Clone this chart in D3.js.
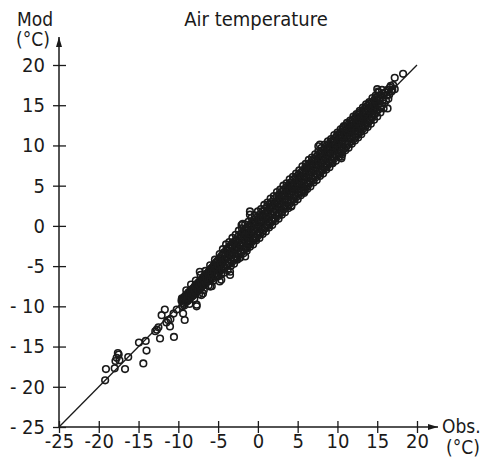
<!DOCTYPE html>
<html>
<head>
<meta charset="utf-8">
<script src="https://cdn.jsdelivr.net/npm/d3@7"></script>
<style>
  body { margin: 0; background: #fff; }
  svg { display: block; }
  text { font-family: "DejaVu Sans Condensed", "DejaVu Sans", sans-serif; fill: #1a1a1a; }
</style>
</head>
<body>
<svg id="chart"></svg>
<script>
const width = 483, height = 468;

const xTicks = [-25, -20, -15, -10, -5, 0, 5, 10, 15, 20];
const yTicks = [-25, -20, -15, -10, -5, 0, 5, 10, 15, 20];
const oneToOne = [[-25, -25], [20, 20]];

// scattered points, cold tail and outliers [obs, mod]
const sparsePoints = [
  [-19.2, -19.2], [-19.1, -17.8], [-18.0, -17.7], [-16.7, -17.8], [-17.75, -16.4],
  [-17.5, -16.0], [-17.9, -16.8], [-17.4, -16.7], [-17.6, -15.8], [-16.3, -16.3],
  [-14.4, -17.1], [-14.95, -14.5], [-14.1, -14.3], [-14.0, -15.5], [-12.3, -14.0],
  [-12.7, -12.9], [-12.5, -12.6], [-12.9, -13.1], [-11.05, -12.5], [-11.3, -11.7],
  [-11.5, -12.0], [-11.0, -11.6], [-10.55, -13.8], [-12.1, -11.1], [-11.7, -10.4],
  [-10.2, -10.4], [-10.6, -10.9], [-9.2, -11.7], [-9.4, -10.9], [-7.7, -9.8],
  [-6.9, -8.4], [-5.8, -7.5], [-4.8, -6.9], [-4.6, -6.7], [-6.0, -7.55],
  [-7.1, -8.6], [-7.7, -10.0], [-3.5, -5.7], [-3.5, -6.1], [-2.3, -4.0],
  [-1.6, -3.8], [-1.4, -2.8], [-0.4, -1.7], [-7.3, -5.7], [-2.05, 0.1],
  [-1.0, 1.8], [-1.0, 1.4], [-1.9, 0.25], [4.2, 2.4], [5.7, 4.3],
  [5.9, 4.3], [7.6, 9.9], [7.8, 10.1], [9.25, 7.8], [10.5, 8.4],
  [10.5, 8.6], [10.7, 12.2], [12.4, 11.9], [15.0, 17.0], [15.1, 16.7],
  [16.3, 14.6], [17.2, 18.4], [18.25, 18.9]
];

// main body of the cloud along the 1:1 line [obs, mod]
const densePoints = [
  [-9.6, -9.3], [-9.5, -10.0], [-9.4, -9.0], [-9.3, -9.7], [-9.2, -8.8], [-9.1, -9.5], [-9.0, -9.1], [-8.9, -8.6], [-8.8, -9.3], [-8.7, -8.9],
  [-8.6, -8.2], [-8.5, -9.0], [-8.4, -8.5], [-8.3, -7.9], [-8.2, -8.7], [-8.1, -8.3], [-8.0, -7.6], [-7.9, -8.4], [-7.8, -7.9], [-7.7, -7.3],
  [-7.6, -8.1], [-7.5, -7.6], [-7.4, -7.0], [-7.3, -7.8], [-7.2, -7.3], [-7.1, -6.7], [-7.0, -7.5], [-6.9, -7.0], [-6.8, -6.3], [-6.7, -7.2],
  [-6.6, -6.7], [-6.5, -6.0], [-6.4, -6.9], [-6.3, -6.4], [-6.2, -5.7], [-6.1, -6.6], [-6.0, -6.0], [-5.9, -5.3], [-5.8, -6.4], [-5.7, -5.8],
  [-5.6, -5.0], [-5.5, -6.1], [-5.4, -5.5], [-5.3, -4.6], [-5.2, -5.9], [-5.1, -5.2], [-5.0, -4.3], [-4.9, -5.6], [-4.8, -4.9], [-4.7, -4.1],
  [-4.6, -5.4], [-4.5, -4.6], [-4.4, -3.6], [-4.3, -5.1], [-4.2, -4.2], [-4.1, -3.4], [-4.0, -4.9], [-3.9, -3.9], [-3.8, -3.0], [-3.7, -4.6],
  [-3.6, -3.5], [-3.5, -2.7], [-3.4, -4.3], [-3.3, -2.6], [-3.2, -3.3], [-3.1, -4.1], [-3.0, -2.3], [-2.9, -3.0], [-2.8, -3.8], [-2.7, -1.9],
  [-2.6, -2.8], [-2.5, -3.5], [-2.4, -1.6], [-2.3, -2.3], [-2.2, -3.1], [-2.1, -1.4], [-2.0, -2.1], [-1.9, -2.9], [-1.8, -1.0], [-1.7, -1.8],
  [-1.6, -2.6], [-1.5, -0.8], [-1.4, -1.5], [-1.3, -2.2], [-1.2, -0.5], [-1.1, -1.1], [-1.0, -1.9], [-0.9, -0.1], [-0.8, -0.8], [-0.7, -1.6],
  [-0.6, 0.2], [-0.5, -0.5], [-0.4, -1.3], [-0.3, 0.5], [-0.2, -0.3], [-0.1, -1.0], [0.0, 0.8], [0.1, 0.0], [0.2, -0.7], [0.3, 1.1],
  [0.4, 0.4], [0.5, -0.4], [0.6, 1.3], [0.7, 0.6], [0.8, -0.1], [0.9, 1.6], [1.0, 1.0], [1.1, 0.2], [1.2, 1.9], [1.3, 1.2],
  [1.4, 0.5], [1.5, 2.2], [1.6, 1.5], [1.7, 0.8], [1.8, 2.5], [1.9, 1.8], [2.0, 1.0], [2.1, 2.8], [2.2, 2.1], [2.3, 1.3],
  [2.4, 3.1], [2.5, 2.4], [2.6, 1.6], [2.7, 3.3], [2.8, 2.7], [2.9, 2.0], [3.0, 3.7], [3.1, 3.0], [3.2, 2.3], [3.3, 4.0],
  [3.4, 3.3], [3.5, 2.6], [3.6, 4.4], [3.7, 3.7], [3.8, 2.9], [3.9, 4.6], [4.0, 4.0], [4.1, 3.2], [4.2, 5.0], [4.3, 4.3],
  [4.4, 3.5], [4.5, 5.3], [4.6, 4.6], [4.7, 3.8], [4.8, 5.6], [4.9, 4.9], [5.0, 4.2], [5.1, 5.9], [5.2, 5.2], [5.3, 4.5],
  [5.4, 6.2], [5.5, 5.5], [5.6, 4.8], [5.7, 6.5], [5.8, 5.8], [5.9, 5.0], [6.0, 6.8], [6.1, 6.1], [6.2, 5.3], [6.3, 7.1],
  [6.4, 6.4], [6.5, 5.6], [6.6, 7.4], [6.7, 6.7], [6.8, 5.9], [6.9, 7.7], [7.0, 7.0], [7.1, 6.2], [7.2, 8.0], [7.3, 7.3],
  [7.4, 6.5], [7.5, 8.3], [7.6, 7.6], [7.7, 6.8], [7.8, 8.6], [7.9, 7.9], [8.0, 7.1], [8.1, 8.9], [8.2, 8.2], [8.3, 7.4],
  [8.4, 9.2], [8.5, 8.5], [8.6, 7.7], [8.7, 9.5], [8.8, 8.8], [8.9, 8.0], [9.0, 9.8], [9.1, 9.1], [9.2, 8.3], [9.3, 10.1],
  [9.4, 9.4], [9.5, 8.6], [9.6, 10.4], [9.7, 9.7], [9.8, 8.9], [9.9, 10.7], [10.0, 10.0], [10.1, 9.2], [10.2, 11.0], [10.3, 10.3],
  [10.4, 9.5], [10.5, 11.3], [10.6, 10.6], [10.7, 9.8], [10.8, 11.6], [10.9, 10.9], [11.0, 10.2], [11.1, 11.9], [11.2, 11.2], [11.3, 10.5],
  [11.4, 12.2], [11.5, 11.5], [11.6, 10.8], [11.7, 12.5], [11.8, 11.8], [11.9, 11.1], [12.0, 12.8], [12.1, 12.1], [12.2, 11.4], [12.3, 13.1],
  [12.4, 12.4], [12.5, 11.7], [12.6, 13.4], [12.7, 12.7], [12.8, 12.0], [12.9, 13.6], [13.0, 13.0], [13.1, 12.3], [13.2, 13.9], [13.3, 13.3],
  [13.4, 12.6], [13.5, 14.2], [13.6, 13.6], [13.7, 12.9], [13.8, 14.5], [13.9, 13.9], [14.0, 13.3], [14.1, 14.8], [14.2, 14.2], [14.3, 13.6],
  [14.4, 15.1], [14.5, 14.5], [14.6, 13.9], [14.7, 15.4], [14.8, 14.8], [14.9, 14.2], [15.0, 15.7], [15.2, 15.2], [15.4, 14.7], [15.5, 16.2],
  [15.7, 15.6], [15.9, 15.2], [16.0, 16.6], [16.2, 16.2], [16.4, 15.8], [16.6, 17.2], [16.8, 16.7], [17.0, 17.5], [17.2, 17.0]
];

// second, offset layer of the cloud that fills it in [obs, mod]
const denseFill = [
  [-9.55, -9.0], [-9.45, -9.6], [-9.35, -9.2], [-9.25, -9.9], [-9.15, -9.0], [-9.05, -8.6], [-8.95, -9.4], [-8.85, -8.9], [-8.75, -8.3], [-8.65, -9.1],
  [-8.55, -8.6], [-8.45, -8.0], [-8.35, -8.8], [-8.25, -8.4], [-8.15, -7.8], [-8.05, -8.5], [-7.95, -8.0], [-7.85, -7.4], [-7.75, -8.3], [-7.65, -7.8],
  [-7.55, -7.1], [-7.45, -8.0], [-7.35, -7.4], [-7.25, -6.8], [-7.15, -7.7], [-7.05, -7.1], [-6.95, -6.5], [-6.85, -7.4], [-6.75, -6.8], [-6.65, -6.2],
  [-6.55, -7.1], [-6.45, -6.5], [-6.35, -5.9], [-6.25, -6.9], [-6.15, -6.2], [-6.05, -5.5], [-5.95, -6.7], [-5.85, -5.9], [-5.75, -5.2], [-5.65, -6.5],
  [-5.55, -5.6], [-5.45, -4.8], [-5.35, -6.2], [-5.25, -5.3], [-5.15, -4.4], [-5.05, -5.9], [-4.95, -5.0], [-4.85, -4.0], [-4.75, -5.6], [-4.65, -4.7],
  [-4.55, -3.7], [-4.45, -5.4], [-4.35, -4.4], [-4.25, -3.3], [-4.15, -5.2], [-4.05, -4.1], [-3.95, -2.9], [-3.85, -4.9], [-3.75, -3.8], [-3.65, -2.6],
  [-3.55, -4.7], [-3.45, -3.5], [-3.35, -2.3], [-3.25, -4.5], [-3.15, -3.1], [-3.05, -2.0], [-2.95, -4.2], [-2.85, -2.8], [-2.75, -1.7], [-2.65, -3.9],
  [-2.55, -2.5], [-2.45, -1.3], [-2.35, -3.6], [-2.25, -2.2], [-2.15, -1.0], [-2.05, -3.3], [-1.95, -1.8], [-1.85, -0.7], [-1.75, -3.0], [-1.65, -1.5],
  [-1.55, -0.4], [-1.45, -2.7], [-1.35, -1.2], [-1.25, -0.1], [-1.15, -2.4], [-1.05, -0.9], [-0.95, 0.2], [-0.85, -2.1], [-0.75, -0.6], [-0.65, 0.5],
  [-0.55, -1.8], [-0.45, -0.2], [-0.35, 0.8], [-0.25, -1.5], [-0.15, 0.1], [-0.05, 1.1], [0.05, -1.2], [0.15, 0.5], [0.25, 1.4], [0.35, -0.9],
  [0.45, 0.8], [0.55, 1.8], [0.65, -0.6], [0.75, 1.1], [0.85, 2.1], [0.95, -0.3], [1.05, 1.5], [1.15, 2.4], [1.25, 0.0], [1.35, 1.8],
  [1.45, 2.7], [1.55, 0.3], [1.65, 2.1], [1.75, 3.0], [1.85, 0.6], [1.95, 2.4], [2.05, 3.3], [2.15, 0.9], [2.25, 2.7], [2.35, 3.6],
  [2.45, 1.2], [2.55, 3.0], [2.65, 3.9], [2.75, 1.5], [2.85, 3.3], [2.95, 4.2], [3.05, 1.8], [3.15, 3.6], [3.25, 4.5], [3.35, 2.1],
  [3.45, 3.9], [3.55, 4.8], [3.65, 2.4], [3.75, 4.2], [3.85, 5.1], [3.95, 2.7], [4.05, 4.5], [4.15, 5.4], [4.25, 3.0], [4.35, 4.8],
  [4.45, 5.7], [4.55, 3.3], [4.65, 5.1], [4.75, 6.0], [4.85, 3.6], [4.95, 5.4], [5.05, 6.3], [5.15, 3.9], [5.25, 5.7], [5.35, 6.6],
  [5.45, 4.2], [5.55, 6.0], [5.65, 6.9], [5.75, 4.5], [5.85, 6.3], [5.95, 7.2], [6.05, 4.8], [6.15, 6.6], [6.25, 7.5], [6.35, 5.1],
  [6.45, 6.9], [6.55, 7.8], [6.65, 5.4], [6.75, 7.2], [6.85, 8.1], [6.95, 5.7], [7.05, 7.5], [7.15, 8.4], [7.25, 6.0], [7.35, 7.8],
  [7.45, 8.7], [7.55, 6.3], [7.65, 8.1], [7.75, 9.0], [7.85, 6.6], [7.95, 8.4], [8.05, 9.3], [8.15, 6.9], [8.25, 8.7], [8.35, 9.6],
  [8.45, 7.2], [8.55, 9.0], [8.65, 9.9], [8.75, 7.5], [8.85, 9.3], [8.95, 10.2], [9.05, 7.8], [9.15, 9.6], [9.25, 10.5], [9.35, 8.1],
  [9.45, 9.9], [9.55, 10.8], [9.65, 8.4], [9.75, 10.2], [9.85, 11.1], [9.95, 8.7], [10.05, 10.5], [10.15, 11.4], [10.25, 9.0], [10.35, 10.8],
  [10.45, 11.7], [10.55, 9.3], [10.65, 11.1], [10.75, 12.0], [10.85, 9.6], [10.95, 11.4], [11.05, 12.3], [11.15, 9.9], [11.25, 11.7], [11.35, 12.6],
  [11.45, 10.2], [11.55, 12.0], [11.65, 12.9], [11.75, 10.5], [11.85, 12.3], [11.95, 13.2], [12.05, 10.8], [12.15, 12.6], [12.25, 13.5], [12.35, 11.1],
  [12.45, 12.9], [12.55, 13.8], [12.65, 11.4], [12.75, 13.2], [12.85, 14.1], [12.95, 11.7], [13.05, 13.5], [13.15, 14.3], [13.25, 12.1], [13.35, 13.8],
  [13.45, 14.6], [13.55, 12.4], [13.65, 14.1], [13.75, 14.9], [13.85, 12.8], [13.95, 14.4], [14.05, 15.2], [14.15, 13.1], [14.25, 14.7], [14.35, 15.4],
  [14.45, 13.5], [14.55, 15.0], [14.65, 15.7], [14.75, 13.9], [14.85, 15.3], [14.95, 16.0], [15.1, 14.4], [15.3, 15.9], [15.6, 15.0], [15.8, 16.4],
  [16.1, 15.6], [16.3, 16.9], [16.5, 16.3], [16.7, 17.4], [16.9, 16.9]
];

// outer fringe of the cloud, above and below the line [obs, mod]
const denseEdges = [
  [-9.0, -8.0], [-8.4, -7.3], [-7.8, -6.8], [-7.2, -6.1], [-6.6, -5.6], [-6.0, -4.9], [-5.4, -4.2], [-4.8, -3.5],
  [-4.4, -2.9], [-4.0, -2.3], [-3.6, -2.0], [-3.2, -1.5], [-2.8, -1.1], [-2.4, -0.6], [-2.0, -0.3], [-1.6, 0.2],
  [-1.2, 0.5], [-0.8, 1.0], [-0.4, 1.3], [0.0, 1.8], [0.4, 2.1], [0.8, 2.6], [1.2, 2.9], [1.6, 3.4],
  [2.0, 3.7], [2.4, 4.2], [2.8, 4.5], [3.2, 5.0], [3.6, 5.3], [4.0, 5.8], [4.4, 6.1], [4.8, 6.5],
  [5.2, 6.9], [5.6, 7.4], [6.0, 7.7], [6.4, 8.2], [6.8, 8.5], [7.2, 8.9], [7.6, 9.3], [8.0, 9.7],
  [8.4, 10.1], [8.8, 10.5], [9.2, 10.8], [9.6, 11.3], [10.0, 11.6], [10.4, 12.0], [10.8, 12.4], [11.2, 12.8],
  [11.6, 13.1], [12.0, 13.6], [12.4, 13.9], [12.8, 14.3], [13.2, 14.7], [13.6, 15.1], [14.0, 15.4], [14.4, 15.9],
  [14.8, 16.2], [15.2, 16.6], [15.6, 16.9],
  [-8.6, -9.7], [-8.0, -9.1], [-7.4, -8.5], [-6.8, -8.0], [-6.2, -7.4], [-5.6, -6.8], [-5.0, -6.3], [-4.6, -6.0],
  [-4.2, -5.8], [-3.8, -5.5], [-3.4, -5.0], [-3.0, -4.7], [-2.6, -4.2], [-2.2, -3.9], [-1.8, -3.4], [-1.4, -3.1],
  [-1.0, -2.6], [-0.6, -2.3], [-0.2, -1.8], [0.2, -1.5], [0.6, -1.0], [1.0, -0.7], [1.4, -0.2], [1.8, 0.1],
  [2.2, 0.6], [2.6, 0.9], [3.0, 1.4], [3.4, 1.7], [3.8, 2.2], [4.2, 2.5], [4.6, 3.0], [5.0, 3.3],
  [5.4, 3.8], [5.8, 4.1], [6.2, 4.6], [6.6, 4.9], [7.0, 5.4], [7.4, 5.7], [7.8, 6.2], [8.2, 6.5],
  [8.6, 7.0], [9.0, 7.3], [9.4, 7.8], [9.8, 8.1], [10.2, 8.6], [10.6, 8.9], [11.0, 9.4], [11.4, 9.7],
  [11.8, 10.2], [12.2, 10.6], [12.6, 11.0], [13.0, 11.4], [13.4, 11.9], [13.8, 12.3], [14.2, 12.7], [14.6, 13.2],
  [15.0, 13.6], [15.4, 14.1], [15.8, 14.6]
];

const x = d3.scaleLinear().domain([-25, 20]).range([59, 417]);
const y = d3.scaleLinear().domain([-25, 20]).range([427, 65]);

const svg = d3.select("#chart").attr("width", width).attr("height", height);
const ink = "#1a1a1a";
const font = '"DejaVu Sans Condensed", "DejaVu Sans", sans-serif';

// arrow head
svg.append("defs").append("marker")
  .attr("id", "arrow")
  .attr("viewBox", "0 0 10 6")
  .attr("refX", 10).attr("refY", 3)
  .attr("markerWidth", 11).attr("markerHeight", 6)
  .attr("markerUnits", "userSpaceOnUse")
  .attr("orient", "auto")
  .append("path").attr("d", "M0,0L10,3L0,6Z").attr("fill", ink);

// axis lines
svg.append("line")
  .attr("x1", x(-25)).attr("y1", y(-25)).attr("x2", 438).attr("y2", y(-25))
  .attr("stroke", ink).attr("stroke-width", 1.5).attr("marker-end", "url(#arrow)");
svg.append("line")
  .attr("x1", x(-25)).attr("y1", y(-25)).attr("x2", x(-25)).attr("y2", 37)
  .attr("stroke", ink).attr("stroke-width", 1.5).attr("marker-end", "url(#arrow)");

// x axis
const gx = svg.append("g")
  .attr("transform", `translate(0,${y(-25)})`)
  .call(d3.axisBottom(x).tickValues(xTicks).tickSize(0).tickPadding(7));
gx.select(".domain").remove();
gx.selectAll(".tick line").attr("y1", -6).attr("y2", 6).attr("stroke", ink).attr("stroke-width", 1.3);
gx.selectAll(".tick text")
  .style("font-size", "20px")
  .style("font-family", font)
  .attr("fill", ink)
  .text(d => d < 0 ? "-" + Math.abs(d) : d);

// y axis
const gy = svg.append("g")
  .attr("transform", `translate(${x(-25)},0)`)
  .call(d3.axisLeft(y).tickValues(yTicks).tickSize(0).tickPadding(14));
gy.select(".domain").remove();
gy.selectAll(".tick line").attr("x1", -6).attr("x2", 7).attr("stroke", ink).attr("stroke-width", 1.3);
gy.selectAll(".tick text")
  .style("font-size", "20px")
  .style("font-family", font)
  .attr("fill", ink)
  .text(d => d < -5 ? "- " + Math.abs(d) : (d < 0 ? "-" + Math.abs(d) : d));

// 1:1 line
svg.append("path")
  .datum(oneToOne)
  .attr("d", d3.line().x(d => x(d[0])).y(d => y(d[1])))
  .attr("fill", "none").attr("stroke", ink).attr("stroke-width", 1.3);

// points
svg.append("g")
  .selectAll("circle")
  .data(denseEdges.concat(densePoints, denseFill, sparsePoints))
  .join("circle")
  .attr("cx", d => x(d[0]))
  .attr("cy", d => y(d[1]))
  .attr("r", 3.3)
  .attr("fill", "none")
  .attr("stroke", ink)
  .attr("stroke-width", 1.6);

// labels
svg.append("text").attr("x", 256).attr("y", 26).attr("text-anchor", "middle")
  .style("font-size", "20px").text("Air temperature");
svg.append("text").attr("x", 17).attr("y", 26).style("font-size", "19px").text("Mod");
svg.append("text").attr("x", 16).attr("y", 46).style("font-size", "19px").text("(°C)");
svg.append("text").attr("x", 442).attr("y", 433).style("font-size", "19px").text("Obs.");
svg.append("text").attr("x", 446).attr("y", 454).style("font-size", "19px").text("(°C)");
</script>
</body>
</html>
